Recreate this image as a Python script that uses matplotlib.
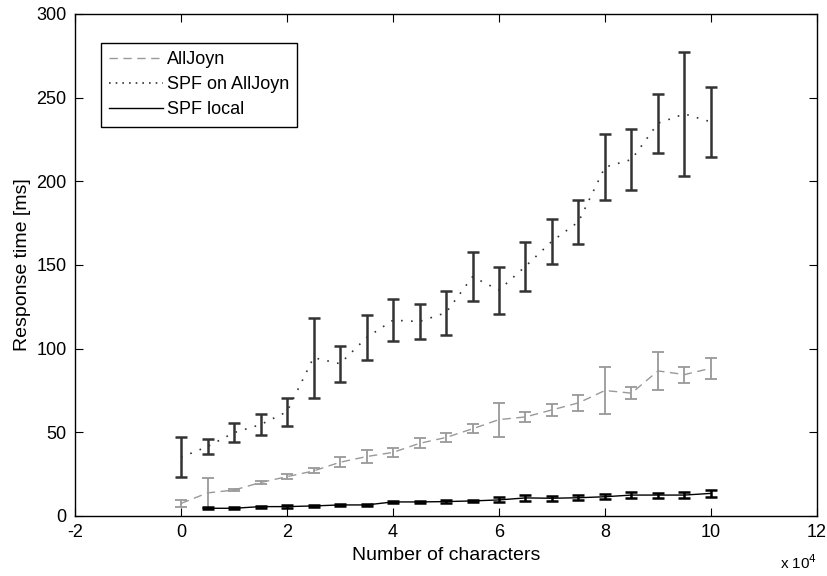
import matplotlib
matplotlib.use("Agg")
import matplotlib.pyplot as plt
from matplotlib.lines import Line2D

plt.rcParams['font.family'] = ['Liberation Sans', 'DejaVu Sans']
plt.rcParams['axes.unicode_minus'] = False

# x in units of 10^4 characters
x_all = [0, 0.5, 1, 1.5, 2, 2.5, 3, 3.5, 4, 4.5, 5,
         5.5, 6, 6.5, 7, 7.5, 8, 8.5, 9, 9.5, 10]
x_local = x_all[1:]

alljoyn = [7.5, 13.8, 15.5, 20.0, 23.5, 26.9, 32.1, 35.5, 38.0, 43.4, 46.9,
           52.1, 57.6, 59.2, 63.4, 67.6, 75.0, 73.4, 86.7, 84.5, 88.3]
alljoyn_err = [2.0, 8.8, 0.8, 1.0, 1.5, 1.5, 2.9, 4.0, 2.5, 3.0, 2.5,
               2.7, 10.2, 2.8, 3.6, 4.7, 13.8, 3.5, 11.2, 4.8, 6.4]

spf_aj = [35.0, 41.5, 49.8, 54.6, 62.3, 94.6, 91.0, 106.6, 117.0, 116.2, 121.5,
          143.0, 135.0, 149.2, 164.2, 175.8, 208.5, 213.0, 234.7, 240.3, 235.5]
spf_aj_err = [12.0, 4.5, 5.6, 6.4, 8.3, 23.9, 10.7, 13.6, 12.7, 10.5, 13.1,
              14.7, 14.0, 14.5, 13.5, 13.0, 19.5, 18.3, 17.5, 36.9, 20.7]

spf_local = [4.6, 4.6, 5.6, 5.6, 6.0, 6.6, 6.6, 8.4, 8.4, 8.6,
             9.0, 9.6, 10.8, 10.6, 10.9, 11.5, 12.5, 12.5, 12.5, 13.5]
spf_local_err = [0.6, 0.5, 0.6, 1.0, 0.6, 0.6, 0.6, 0.6, 0.6, 1.0,
                 0.6, 1.5, 2.0, 1.5, 1.5, 1.5, 2.0, 1.5, 2.0, 2.0]

fig = plt.figure(figsize=(8.28, 5.76), dpi=100)
ax = fig.add_axes([0.0906, 0.1042, 0.8961, 0.8715])

gray = (0.6, 0.6, 0.6)
dark = (0.2, 0.2, 0.2)
ls_dash = (0, (6, 4))
ls_dot = (0, (1, 5))

ax.errorbar(x_all, alljoyn, yerr=alljoyn_err, color=gray, linestyle=ls_dash,
            linewidth=1, elinewidth=1.3, capsize=4, capthick=1.3)
ax.errorbar(x_all, spf_aj, yerr=spf_aj_err, color=dark, linestyle=ls_dot,
            linewidth=1.2, elinewidth=1.8, capsize=4, capthick=1.8)
ax.errorbar(x_local, spf_local, yerr=spf_local_err, color='black', linestyle='-',
            linewidth=1, elinewidth=1.8, capsize=4, capthick=1.8)

ax.set_xlim(-2, 12)
ax.set_ylim(0, 300)
ax.set_xticks([-2, 0, 2, 4, 6, 8, 10, 12])
ax.set_yticks([0, 50, 100, 150, 200, 250, 300])
ax.tick_params(direction='in', top=True, right=True, length=6, labelsize=13, pad=6)
for s in ax.spines.values():
    s.set_linewidth(1)

ax.set_xlabel('Number of characters', fontsize=14, labelpad=4)
ax.set_ylabel('Response time [ms]', fontsize=14, labelpad=4)
ax.text(1.0, -0.093, r'x 10$^4$', transform=ax.transAxes, ha='right', va='center', fontsize=11)

handles = [Line2D([], [], color=gray, linestyle=ls_dash, linewidth=1),
           Line2D([], [], color=dark, linestyle=(0, (1, 3)), linewidth=1.2),
           Line2D([], [], color='black', linestyle='-', linewidth=1)]
labels = ['AllJoyn', 'SPF on AllJoyn', 'SPF local']
leg = ax.legend(handles, labels, loc='upper left', bbox_to_anchor=(0.035, 0.942), fontsize=13,
                fancybox=False, edgecolor='black', framealpha=1, handlelength=3.0,
                handletextpad=0.2, borderpad=0.45, labelspacing=0.45, borderaxespad=0)
leg.get_frame().set_linewidth(1)

fig.savefig('out.png', dpi=100)
